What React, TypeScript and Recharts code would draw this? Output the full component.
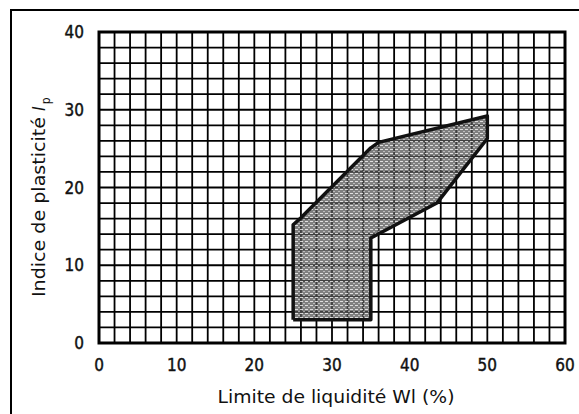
import { ScatterChart, Scatter, XAxis, YAxis, CartesianGrid, ReferenceArea, Label } from "recharts";

// grid every 2 units, labels every 10
const wlTicks = [0, 2, 4, 6, 8, 10, 12, 14, 16, 18, 20, 22, 24, 26, 28, 30, 32, 34, 36, 38, 40, 42, 44, 46, 48, 50, 52, 54, 56, 58, 60];
const ipTicks = [0, 2, 4, 6, 8, 10, 12, 14, 16, 18, 20, 22, 24, 26, 28, 30, 32, 34, 36, 38, 40];
const wlLabels = [0, 10, 20, 30, 40, 50, 60];
const ipLabels = [0, 10, 20, 30, 40];

// outline of the shaded zone, in order (closed)
const zoneWl = [25, 25, 26, 35, 36, 50, 50, 43.5, 35, 35, 25];
const zoneIp = [3, 15.2, 16.1, 25.1, 25.8, 29.2, 26.3, 18, 13.5, 3, 3];

const zone = zoneWl.map((wl, i) => ({ wl, ip: zoneIp[i] }));

const FONT = "'DejaVu Sans Condensed', 'Liberation Sans Narrow', 'DejaVu Sans', sans-serif";

const XTitle = () => (
  <text x={336} y={403} textAnchor="middle" fontFamily={FONT} fontSize={18} fill="#111"
    textLength={237} lengthAdjust="spacingAndGlyphs">
    Limite de liquidité Wl (%)
  </text>
);

const YTitle = () => (
  <text transform="rotate(-90)" x={-297} y={45} fontFamily={FONT} fontSize={18} fill="#111">
    <tspan textLength={180} lengthAdjust="spacingAndGlyphs">Indice de plasticité</tspan>
    <tspan dx={6} fontStyle="italic">I</tspan>
    <tspan dx={2} dy={5} fontSize={12}>p</tspan>
  </text>
);

const hideDot = () => <g />;

export default function App() {
  return (
    <div style={{ position: "fixed", left: 0, top: 0, width: 579, height: 414, background: "#fff", overflow: "hidden" }}>
      <div style={{ position: "absolute", left: 10, top: 9, width: 620, height: 480, borderLeft: "2.5px solid #000", borderTop: "2.5px solid #000" }} />
      <div style={{ position: "absolute", left: 0, top: 0 }}>
        <ScatterChart width={579} height={414} margin={{ top: 32, right: 14, bottom: 41, left: 0 }}>
          <defs>
            <pattern id="zoneFill" width="5" height="4" patternUnits="userSpaceOnUse">
              <rect width="5" height="4" fill="#555" fillOpacity={0.75} />
              <rect x="0" y="1" width="3" height="1" fill="#fff" fillOpacity={0.75} />
              <rect x="3" y="3" width="2" height="1" fill="#eee" fillOpacity={0.55} />
            </pattern>
          </defs>
          <CartesianGrid stroke="#000" strokeWidth={1.8} />
          <XAxis type="number" dataKey="wl" domain={[0, 60]} ticks={wlTicks} interval={0}
            tickFormatter={(v: number) => (wlLabels.includes(v) ? String(v) : "")}
            axisLine={false} tickLine={false} tickMargin={10} height={30}
            tick={{ fill: "#111", fontSize: 17, fontFamily: FONT, stroke: "#111", strokeWidth: 0.4 }}>
            <Label content={XTitle} />
          </XAxis>
          <YAxis type="number" dataKey="ip" domain={[0, 40]} ticks={ipTicks} interval={0}
            tickFormatter={(v: number) => (ipLabels.includes(v) ? String(v) : "")}
            axisLine={false} tickLine={false} tickMargin={9} width={99}
            tick={{ fill: "#111", fontSize: 17, fontFamily: FONT, stroke: "#111", strokeWidth: 0.4 }}>
            <Label content={YTitle} />
          </YAxis>
          <ReferenceArea x1={0} x2={60} y1={0} y2={40} fill="none" stroke="#000" strokeWidth={3} ifOverflow="visible" />
          <Scatter data={zone} isAnimationActive={false} shape={hideDot} fill="#111"
            line={{ stroke: "#111", strokeWidth: 3.5, fill: "url(#zoneFill)", strokeLinejoin: "round" }} lineType="joint" />
        </ScatterChart>
      </div>
    </div>
  );
}
